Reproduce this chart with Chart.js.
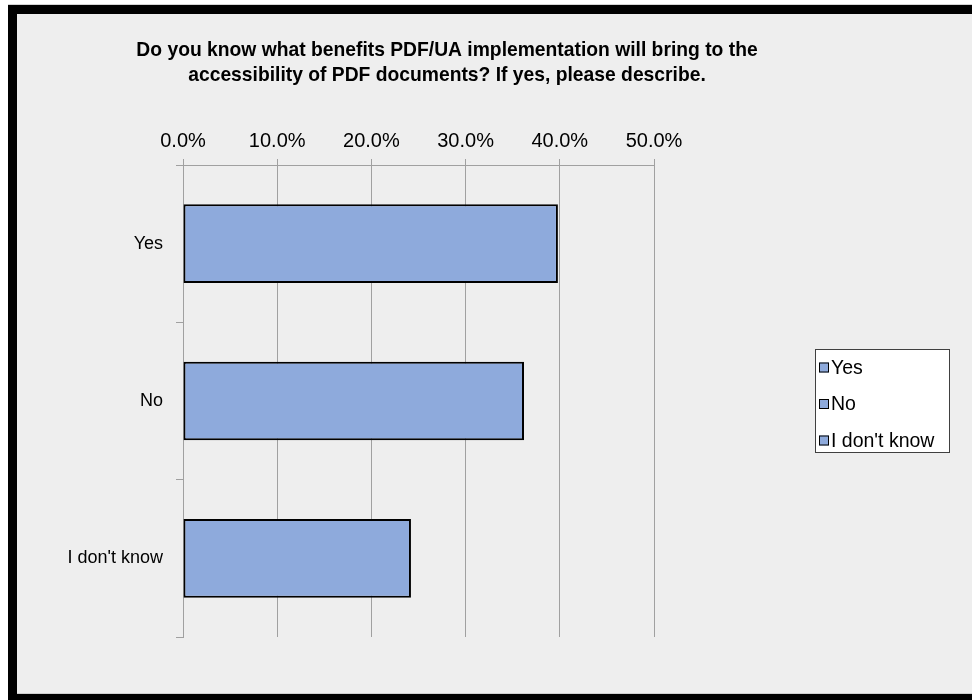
<!DOCTYPE html>
<html>
<head>
<meta charset="utf-8">
<script src="https://cdn.jsdelivr.net/npm/chart.js@4/dist/chart.umd.min.js"></script>
<style>
  html, body { margin: 0; padding: 0; background: #ffffff; }
  canvas { display: block; }
</style>
</head>
<body>
<canvas id="chart" width="972" height="700"></canvas>
<script>
// Survey question and answer shares (percent of respondents)
const titleLines = [
  'Do you know what benefits PDF/UA implementation will bring to the',
  'accessibility of PDF documents? If yes, please describe.'
];
const categories = ['Yes', 'No', "I don't know"];
const shares = [39.8, 36.2, 24.2];
const tickValues = [0, 10, 20, 30, 40, 50];

const FONT = '"Liberation Sans", Arial, sans-serif';
const barFill = '#8eaadc';
const gridGray = '#a0a0a0';

// Grey panel with a heavy black frame on the left, top and bottom
const framePlugin = {
  id: 'frame',
  beforeDraw(chart) {
    const { ctx, width, height } = chart;
    ctx.save();
    ctx.fillStyle = '#ffffff';
    ctx.fillRect(0, 0, width, height);
    ctx.fillStyle = '#d4d4d4';
    ctx.fillRect(8, 4, width - 8, 1);
    ctx.fillStyle = '#000000';
    ctx.fillRect(8, 5, width - 8, height - 5);
    ctx.fillStyle = '#eeeeee';
    ctx.fillRect(17, 14, width - 17, 679);
    ctx.fillStyle = '#cfcfcf';
    ctx.fillRect(17, 693, width - 17, 1);
    ctx.restore();
  }
};

// Boxed legend listing each answer with its swatch
const answerLegend = {
  id: 'answerLegend',
  afterDraw(chart) {
    const ctx = chart.ctx;
    const box = { x: 815, y: 349, w: 134, h: 103 };
    const rowGap = 36.5;
    const firstRow = box.y + 18.5;
    ctx.save();
    ctx.fillStyle = '#ffffff';
    ctx.fillRect(box.x, box.y, box.w, box.h);
    ctx.strokeStyle = '#404040';
    ctx.lineWidth = 1;
    ctx.strokeRect(box.x + 0.5, box.y + 0.5, box.w, box.h);
    ctx.font = '19.5px ' + FONT;
    ctx.textBaseline = 'middle';
    ctx.textAlign = 'left';
    categories.forEach((label, i) => {
      const cy = firstRow + i * rowGap;
      ctx.fillStyle = barFill;
      ctx.fillRect(box.x + 4, cy - 5, 10, 10);
      ctx.strokeStyle = '#000000';
      ctx.strokeRect(box.x + 4.5, cy - 4.5, 9, 9);
      ctx.fillStyle = '#000000';
      ctx.fillText(label, box.x + 16, cy + 1);
    });
    ctx.restore();
  }
};

new Chart(document.getElementById('chart'), {
  type: 'bar',
  data: {
    labels: categories,
    datasets: [{
      data: shares,
      backgroundColor: barFill,
      borderColor: '#000000',
      borderWidth: 2,
      borderSkipped: false,
      barPercentage: 0.5,
      categoryPercentage: 1
    }]
  },
  options: {
    indexAxis: 'y',
    responsive: false,
    devicePixelRatio: 1,
    animation: false,
    layout: { padding: { left: 17, right: 95, top: 0, bottom: 63 } },
    plugins: {
      legend: { display: false },
      tooltip: { enabled: false },
      title: {
        display: true,
        text: titleLines,
        color: '#000000',
        font: { family: FONT, size: 19.3, weight: 'bold', lineHeight: 25 / 19.3 },
        padding: { top: 38.5, bottom: 10 }
      }
    },
    scales: {
      x: {
        position: 'top',
        min: 0,
        max: 50,
        afterBuildTicks(scale) {
          scale.ticks = tickValues.map(v => ({ value: v }));
        },
        ticks: {
          callback: v => Number(v).toFixed(1) + '%',
          color: '#000000',
          font: { family: FONT, size: 20 },
          padding: 6,
          maxRotation: 0
        },
        grid: { color: gridGray, lineWidth: 1, tickLength: 6 },
        border: { display: true, color: gridGray },
        afterFit(scale) { scale.height = 66.5; }
      },
      y: {
        ticks: {
          color: '#000000',
          font: { family: FONT, size: 18 },
          padding: 13
        },
        grid: { drawOnChartArea: false, color: gridGray, tickLength: 7, offset: true },
        border: { display: true, color: gridGray },
        afterFit(scale) { scale.width = 166; }
      },
      gap: {
        type: 'linear',
        position: 'right',
        ticks: { display: false },
        grid: { display: false },
        border: { display: false },
        afterFit(scale) { scale.width = 223; }
      }
    }
  },
  plugins: [framePlugin, answerLegend]
});
</script>
</body>
</html>
